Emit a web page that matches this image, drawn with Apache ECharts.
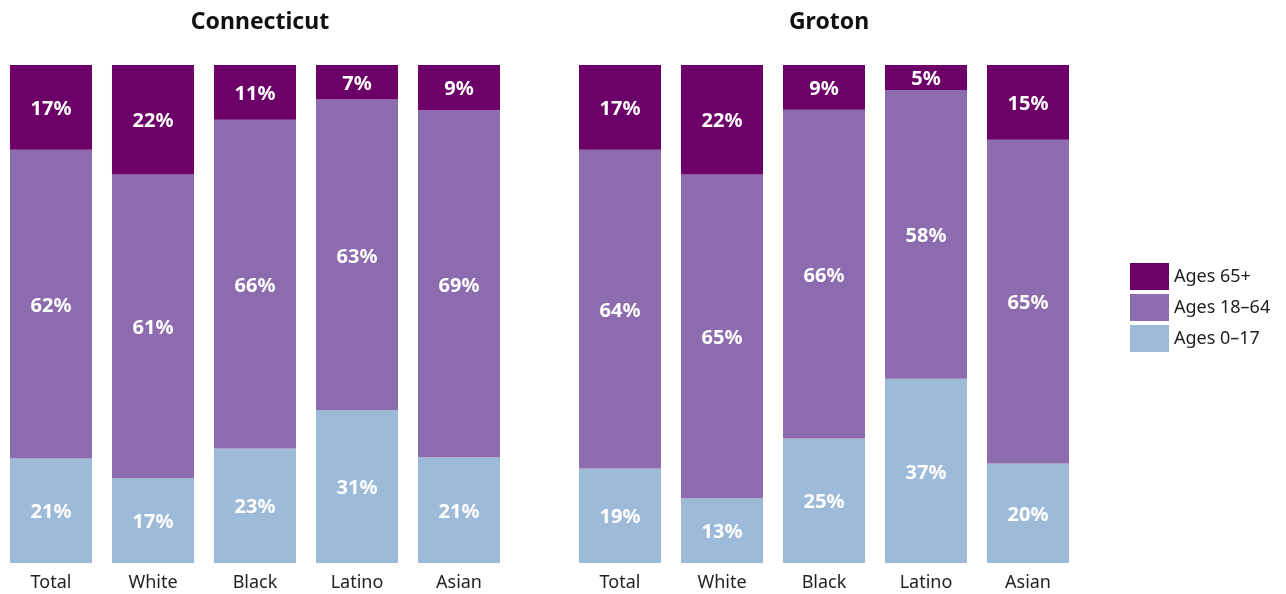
<!DOCTYPE html>
<html>
<head>
<meta charset="utf-8">
<style>
  html, body { margin: 0; padding: 0; background: #fff; }
  #chart { width: 1286px; height: 594px; }
</style>
<script src="https://cdn.jsdelivr.net/npm/echarts@6/dist/echarts.min.js"></script>
</head>
<body>
<div id="chart"></div>
<script>
// 数据
const categories = ['Total', 'White', 'Black', 'Latino', 'Asian'];
const regions = ['Connecticut', 'Groton'];
const ageGroups = ['Ages 0\u201317', 'Ages 18\u201364', 'Ages 65+'];

const ctYouth = [21, 17, 23, 31, 21];
const ctAdult = [62, 61, 66, 63, 69];
const ctSenior = [17, 22, 11, 7, 9];

const grotonYouth = [19, 13, 25, 37, 20];
const grotonAdult = [64, 65, 66, 58, 65];
const grotonSenior = [17, 22, 9, 5, 15];

const colors = ['#9ebad9', '#8c6baf', '#6c0068'];
const font = '"Noto Sans", "Liberation Sans", sans-serif';

let chart = echarts.init(document.getElementById('chart'));

// 每个柱子按总和归一到 100
function makeSeries(groups, gridIdx) {
  const totals = categories.map((c, i) => groups.reduce((s, g) => s + g[i], 0));
  return groups.map((g, k) => ({
    name: ageGroups[k],
    type: 'bar',
    stack: 'r' + gridIdx,
    xAxisIndex: gridIdx,
    yAxisIndex: gridIdx,
    barCategoryGap: '19.6%',
    color: colors[k],
    data: g.map((v, i) => v / totals[i] * 100),
    label: {
      show: true,
      position: 'inside',
      offset: [0, 2],
      color: '#fff',
      fontFamily: font,
      fontSize: 20,
      fontWeight: 'bold',
      formatter: p => g[p.dataIndex] + '%'
    }
  }));
}

const grids = [{ left: 0, width: 510 }, { left: 569, width: 510 }];

chart.setOption({
  animation: false,
  title: regions.map((r, i) => ({
    text: r,
    left: grids[i].left + grids[i].width / 2,
    textAlign: 'center',
    top: 6,
    textStyle: { fontFamily: font, fontSize: 23, fontWeight: 'bold', color: '#111' }
  })),
  legend: {
    data: ageGroups.slice().reverse(),
    orient: 'vertical',
    left: 1130,
    top: 263,
    padding: 0,
    itemWidth: 39,
    itemHeight: 27,
    itemGap: 4,
    icon: 'rect',
    textStyle: { fontFamily: font, fontSize: 18, color: '#222' }
  },
  grid: grids.map(g => ({ left: g.left, width: g.width, top: 65, bottom: 31 })),
  xAxis: grids.map((g, i) => ({
    type: 'category',
    gridIndex: i,
    data: categories,
    axisLine: { show: false },
    axisTick: { show: false },
    axisLabel: { color: '#222', fontFamily: font, fontSize: 18, margin: 11 }
  })),
  yAxis: grids.map((g, i) => ({
    type: 'value',
    gridIndex: i,
    min: 0,
    max: 100,
    show: false
  })),
  series: [
    ...makeSeries([ctYouth, ctAdult, ctSenior], 0),
    ...makeSeries([grotonYouth, grotonAdult, grotonSenior], 1)
  ]
});

window.addEventListener('resize', () => {
  if (chart) chart.resize();
});
</script>
</body>
</html>
